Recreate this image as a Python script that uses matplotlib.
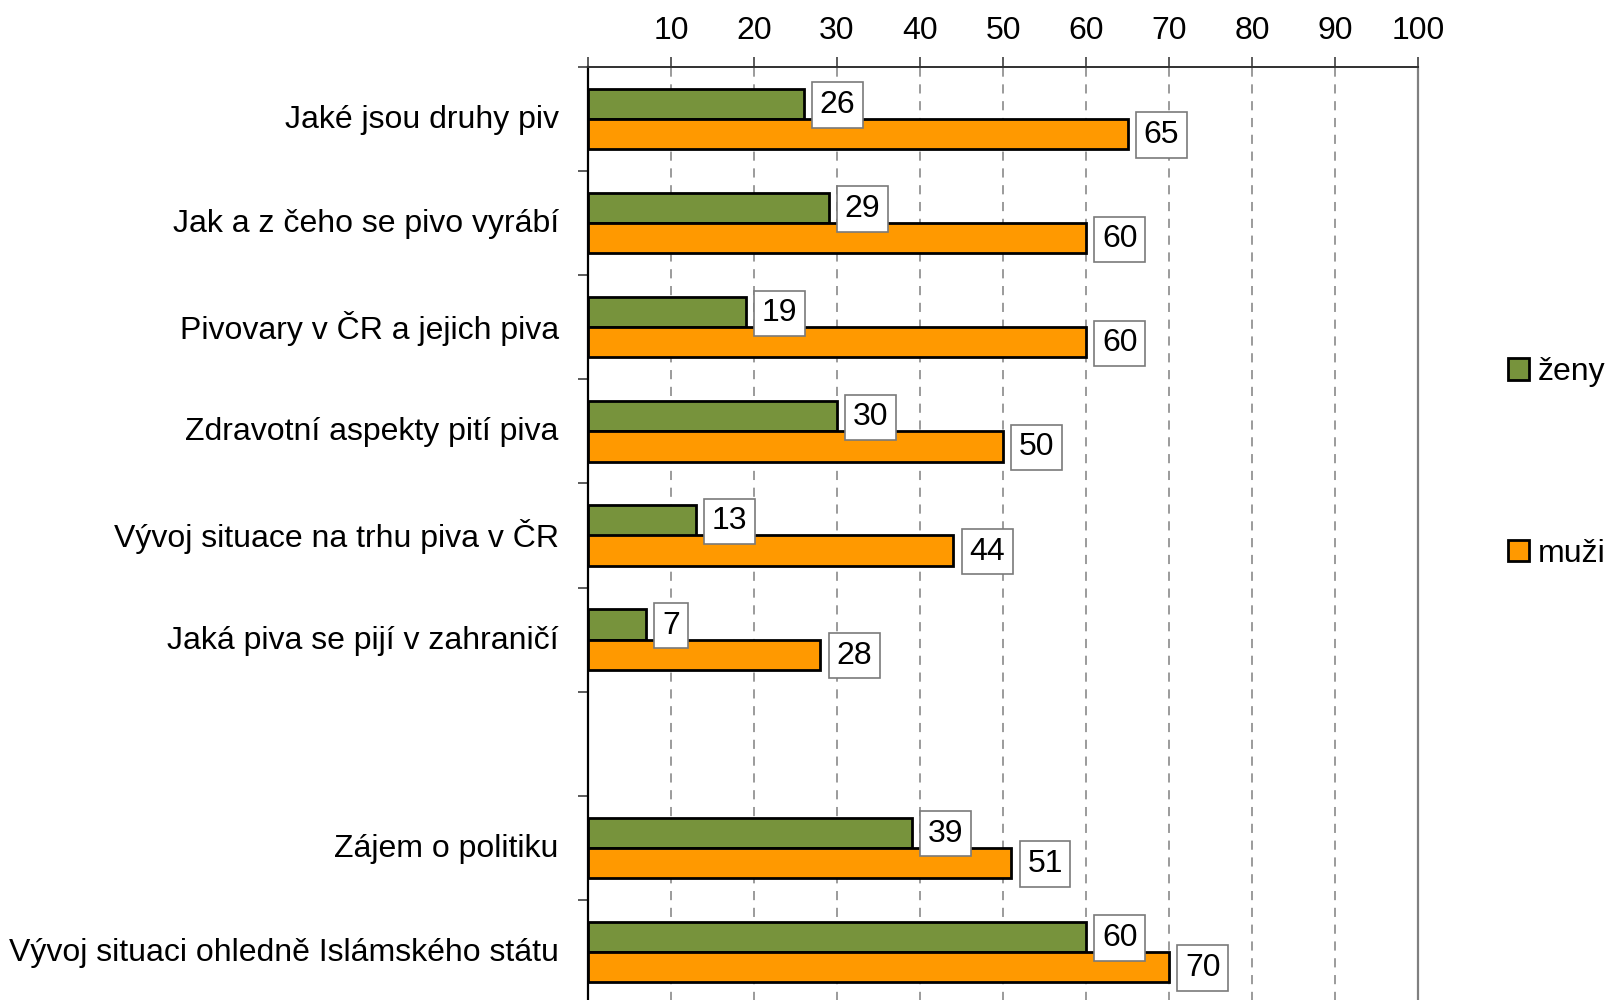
import matplotlib
matplotlib.use("Agg")
import matplotlib.pyplot as plt
import matplotlib.transforms as mtransforms
import numpy as np

plt.rcParams['font.family'] = ['Liberation Sans', 'DejaVu Sans']

# survey topics (empty slot = gap between the two blocks)
topics = ['Jaké jsou druhy piv', 'Jak a z čeho se pivo vyrábí', 'Pivovary v ČR a jejich piva',
          'Zdravotní aspekty pití piva', 'Vývoj situace na trhu piva v ČR',
          'Jaká piva se pijí v zahraničí', '', 'Zájem o politiku',
          'Vývoj situaci ohledně Islámského státu']
zeny = [26, 29, 19, 30, 13, 7, None, 39, 60]
muzi = [65, 60, 60, 50, 44, 28, None, 51, 70]
xticks = [0, 10, 20, 30, 40, 50, 60, 70, 80, 90, 100]
xlabels = ['', '10', '20', '30', '40', '50', '60', '70', '80', '90', '100']

green = '#77933C'
orange = '#FF9900'
fs = 23

fig = plt.figure(figsize=(16.17, 10), dpi=100)
ax = fig.add_axes([588 / 1617, -0.004, 830 / 1617, 0.937])

y = np.arange(len(topics))
h = 0.29
idx = [i for i, v in enumerate(zeny) if v is not None]
zv = [zeny[i] for i in idx]
mv = [muzi[i] for i in idx]
b1 = ax.barh(y[idx] - h / 2, zv, height=h, color=green, edgecolor='black', linewidth=2.0,
             label='ženy', zorder=3)
b2 = ax.barh(y[idx] + h / 2, mv, height=h, color=orange, edgecolor='black', linewidth=2.0,
             label='muži', zorder=3)

# value boxes next to the bar ends
for bars, vals in ((b1, zv), (b2, mv)):
    for bar, v in zip(bars, vals):
        yc = bar.get_y() + bar.get_height() / 2
        ax.annotate(str(v), (v, yc), xytext=(16, -1), textcoords='offset pixels',
                    ha='left', va='center', fontsize=fs, zorder=5,
                    bbox=dict(boxstyle='square,pad=0.24', fc='white', ec='#7a7a7a', lw=1.2))

ax.set_xlim(0, 100)
ax.set_ylim(len(topics) - 0.5, -0.5)

ax.xaxis.tick_top()
ax.set_xticks(xticks)
ax.set_xticklabels(xlabels, fontsize=fs)
ax.tick_params(axis='x', direction='out', length=7, width=1.2, color='#404040', pad=8)

ax.set_yticks(np.arange(-0.5, len(topics), 1.0))
ax.set_yticklabels([])
ax.set_yticks(y, minor=True)
ax.set_yticklabels(topics, minor=True, fontsize=fs)
ax.tick_params(axis='y', which='major', direction='out', length=7, width=1.2, color='#404040')
ax.tick_params(axis='y', which='minor', length=0, pad=21)
# nudge the topic labels up a little
shift = mtransforms.ScaledTranslation(0, 0.025, fig.dpi_scale_trans)
for lab in ax.get_yticklabels(minor=True):
    lab.set_transform(lab.get_transform() + shift)

for gx in xticks[1:-1]:
    ax.axvline(gx, color='#808080', lw=1.1, dashes=(6, 5), zorder=1)

ax.spines['left'].set_color('black')
ax.spines['left'].set_linewidth(1.6)
ax.spines['top'].set_color('#303030')
ax.spines['top'].set_linewidth(1.4)
ax.spines['right'].set_color('#808080')
ax.spines['right'].set_linewidth(1.6)
ax.spines['bottom'].set_visible(False)

fig.legend(handles=[b1, b2], loc='center left', bbox_to_anchor=(1495 / 1617, 1 - 463 / 1000),
           frameon=False, fontsize=fs, handlelength=0.65, handleheight=0.65, handletextpad=0.3,
           labelspacing=4.75, borderaxespad=0)

fig.savefig('out.png', dpi=100)
